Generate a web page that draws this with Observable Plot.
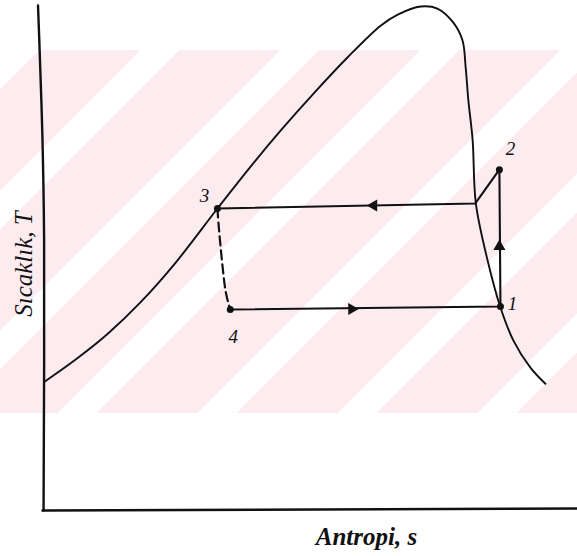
<!DOCTYPE html>
<html>
<head>
<meta charset="utf-8">
<script src="https://cdn.jsdelivr.net/npm/d3@7"></script>
<script src="https://cdn.jsdelivr.net/npm/@observablehq/plot@0.6"></script>
<style>
  html, body { margin: 0; padding: 0; background: #fff; }
  #wrap { position: relative; width: 577px; height: 556px; }
  #watermark {
    position: absolute; left: 0; top: 50px; width: 577px; height: 363px;
    background: repeating-linear-gradient(135deg, #ffffff 0 28px, #fdecef 28px 99px);
  }
  #chart { position: absolute; left: 0; top: 0; }
</style>
</head>
<body>
<div id="wrap">
  <div id="watermark"></div>
  <div id="chart"></div>
</div>
<script>
// Saturation dome (s, T)
const domeS = [0.37, 6.2, 12.1, 18.3, 24.9, 32.7, 38.9, 44.5, 50.7, 57.0, 63.2, 66.4, 70.7, 73.8, 76.8, 78.5, 79.1, 79.6, 80.4, 81.0, 83.2, 85.6, 88.0, 91.2, 94.0];
const domeT = [25.5, 29.9, 34.9, 41.2, 49.1, 59.8, 68.1, 75.2, 82.6, 89.7, 96.0, 98.2, 99.8, 99.4, 96.6, 93.1, 87.7, 81.2, 73.3, 60.8, 49.5, 40.2, 33.7, 28.3, 25.1];

// Cycle state points
const stateNames = ["1", "2", "3", "4"];
const stateS = [85.6, 85.4, 32.7, 35.1];
const stateT = [40.4, 67.5, 59.8, 39.8];

// Solid cycle path: 4 -> 1 -> 2 -> (sat. vapour) -> 3
const cycleS = [35.1, 85.6, 85.4, 80.9, 32.7];
const cycleT = [39.8, 40.4, 67.5, 60.8, 59.8];

// Dashed throttling path 3 -> 4
const throttleS = [32.7, 32.9, 33.6, 34.2, 34.8, 35.1];
const throttleT = [59.8, 56.8, 48.9, 43.6, 40.8, 39.8];

// Flow direction arrows
const arrowS = [85.4, 61.9, 57.8];
const arrowT = [52.3, 60.4, 39.9];
const arrowAngle = [0, -90, 90];

// Axis frame
const yAxisS = [-0.84, -0.6, 0.0, 0.3, 0.2];
const yAxisT = [100, 93.1, 73.3, 53.5, 0];
const xAxisS = [0, 100];
const xAxisT = [0, 0.4];

const xLabel = "Antropi, s";
const yLabel = "Sıcaklık, T";

const zip = (a, b, extra = {}) => a.map((v, i) => ({s: v, T: b[i], ...Object.fromEntries(Object.entries(extra).map(([k, arr]) => [k, arr[i]]))}));

const dome = zip(domeS, domeT);
const states = zip(stateS, stateT, {name: stateNames});
const cycle = zip(cycleS, cycleT);
const throttle = zip(throttleS, throttleT);
const arrows = zip(arrowS, arrowT, {a: arrowAngle});
const yAxis = zip(yAxisS, yAxisT);
const xAxis = zip(xAxisS, xAxisT);

const font = "'Liberation Serif', 'DejaVu Serif', serif";
const labelOffsets = {"1": [12, -3], "2": [11, -21], "3": [-13, -13], "4": [3, 27]};

const chart = Plot.plot({
  width: 577,
  height: 556,
  marginLeft: 42,
  marginRight: 0,
  marginTop: 5,
  marginBottom: 46,
  style: {background: "transparent"},
  x: {domain: [0, 100], axis: null},
  y: {domain: [0, 100], axis: null},
  marks: [
    Plot.line(yAxis, {x: "s", y: "T", stroke: "#111", strokeWidth: 2.4, curve: "catmull-rom"}),
    Plot.line(xAxis, {x: "s", y: "T", stroke: "#111", strokeWidth: 2.4}),
    Plot.line(dome, {x: "s", y: "T", stroke: "#111", strokeWidth: 1.9, curve: "catmull-rom"}),
    Plot.line(cycle, {x: "s", y: "T", stroke: "#111", strokeWidth: 2.1}),
    Plot.line(throttle, {x: "s", y: "T", stroke: "#111", strokeWidth: 2.2, strokeDasharray: "9,5", curve: "catmull-rom"}),
    Plot.dot(arrows, {x: "s", y: "T", symbol: "triangle", rotate: "a", r: 4.5, fill: "#111", stroke: "none"}),
    Plot.dot(states, {x: "s", y: "T", r: 3.5, fill: "#111", stroke: "none"}),
    ...stateNames.map(n => Plot.text(states.filter(d => d.name === n), {
      x: "s", y: "T", text: "name", dx: labelOffsets[n][0], dy: labelOffsets[n][1],
      fontFamily: font, fontStyle: "italic", fontSize: 19, fill: "#111"
    })),
    Plot.text([xLabel], {frameAnchor: "bottom", dx: 56.5, dy: 34, text: d => d, fontFamily: font, fontStyle: "italic", fontWeight: "bold", fontSize: 25, fill: "#111"}),
    Plot.text([yLabel], {frameAnchor: "left", textAnchor: "middle", dx: -19, dy: 6, rotate: -90, text: d => d, fontFamily: font, fontStyle: "italic", fontSize: 25, fill: "#111"})
  ]
});
document.getElementById("chart").appendChild(chart);
</script>
</body>
</html>
